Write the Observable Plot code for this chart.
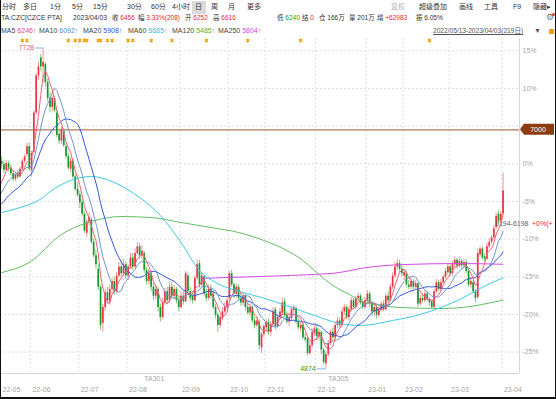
<!DOCTYPE html>
<html lang="zh">
<head>
<meta charset="utf-8">
<script src="https://cdn.jsdelivr.net/npm/d3@7"></script>
<script src="https://cdn.jsdelivr.net/npm/@observablehq/plot@0.6"></script>
<style>
html,body{margin:0;padding:0;background:#fff;}
#wrap{position:relative;width:556px;height:399px;overflow:hidden;background:#fff;font-family:"Liberation Sans","Noto Sans CJK SC",sans-serif;color:#333;}
.h{position:absolute;white-space:nowrap;line-height:10px;}
#border{position:absolute;left:0;top:0;width:556px;height:399px;box-sizing:border-box;border-left:1px solid #111;border-right:1px solid #111;border-bottom:2px solid #111;pointer-events:none;}
</style>
</head>
<body>
<div id="wrap"><div id="border"></div></div>
<script>
// ---------------- header data ----------------
const periodTabs = ["分时","多日","1分","5分","15分","30分","60分","4小时","日","周","月","更多"];
const periodX    = [2,23,50,72,93,127,151,172,195,211,228,247];
const toolTabs   = ["复权","超级叠加","画线","工具","F9","隐藏▸"];
const toolX      = [391,419,459,484,513,533];
const quoteLabels = ["收","幅","开","高","低","结","仓","量","增","振"];
const quoteValues = ["6456","3.33%(208)","6252","6616","6240","0","166万","201万","+62983","6.05%"];
const quoteKinds  = ["up","up","up","up","down","up","flat","flat","up","flat"];
const quoteX      = [112,138,185,213,277,302,319,349,377,416];
const maNames  = ["MA5","MA10","MA20","MA60","MA120","MA250"];
const maLast   = [6246,6092,5908,5685,5485,5804];
const maColors = ["#ef4a64","#5a86cc","#2f50e6","#2cc3e0","#48b548","#d64ae4"];
const maLegendX = [1,39,83,128,172,218];

// ---------------- price data (2022/05/13 - 2023/04/03, 219 sessions) ----------------
const preCloses = [6180,6150,6220,6260,6200,6240,6300,6280,6250,6310,6290,6350,6330,6400,6380,6420,6460,6520,6600];
const opens = [
6720,6690,6640,6700,6660,6610,6560,6610,6580,6650,6720,6780,6850,
6640,6800,7150,7480,7640,7560,7580,7420,7280,7200,7280,7150,6960,6900,6990,6850,6760,6650,6720,6580,6470,
6420,6350,6250,6080,6180,6200,6000,5880,5760,5600,5280,5420,5550,5470,5580,5650,5560,5700,5780,5720,5800,
5700,5780,5860,5780,5900,5960,5880,5900,5750,5650,5720,5600,5520,5580,5420,5330,5460,5560,5480,5600,5520,5580,5480,
5420,5520,5470,5700,5560,5520,5480,5680,5810,5620,5690,5540,5500,5580,5540,5420,5350,5260,5320,5380,5420,
5500,5720,5620,5540,5600,5500,5460,5520,5420,5370,5420,5300,5260,5290,5060,5180,
5240,5290,5200,5270,5400,5250,5330,5370,5470,5350,5290,5320,5390,5410,5290,5230,5260,5150,5140,5010,5080,5190,
5230,5160,5200,5040,4920,5000,5100,5200,5150,5260,5300,5260,5380,5420,5330,5400,5480,5420,5500,5520,5460,5420,
5480,5540,5450,5380,5420,5350,5400,5450,5400,5520,5480,5600,5700,5780,5810,5760,
5700,5720,5620,5600,5650,5600,5630,5450,5500,5480,5540,5490,5470,5420,5560,5640,5580,5640,5690,5730,
5780,5720,5800,5840,5790,5830,5790,5820,5740,5620,5640,5560,5510,5890,5940,5870,5850,5960,6000,6040,6130,6250,6190,6252];
const highs = [
6760,6720,6730,6720,6690,6630,6620,6640,6670,6740,6780,6880,6880,
6810,7170,7500,7600,7670,7728,7600,7450,7330,7300,7300,7180,7000,7020,7010,6880,6790,6750,6740,6600,6520,
6450,6380,6270,6200,6260,6220,6030,5930,5800,5620,5450,5580,5600,5620,5680,5690,5730,5820,5830,5850,5830,
5800,5900,5900,5940,6000,5990,5970,5920,5780,5760,5740,5640,5620,5600,5450,5500,5590,5600,5640,5640,5620,5600,5510,
5560,5560,5740,5720,5600,5560,5700,5840,5840,5730,5700,5580,5620,5620,5570,5450,5370,5360,5420,5460,5500,
5740,5750,5640,5630,5620,5540,5550,5540,5450,5450,5440,5330,5340,5310,5200,5270,
5310,5320,5290,5420,5420,5360,5410,5500,5500,5380,5360,5430,5440,5430,5320,5290,5280,5190,5160,5120,5230,5260,
5260,5230,5210,5060,5020,5130,5220,5240,5290,5330,5330,5420,5450,5440,5430,5510,5500,5520,5550,5540,5490,5510,
5570,5560,5480,5450,5440,5430,5470,5480,5540,5560,5630,5730,5820,5850,5840,5790,
5760,5740,5660,5690,5670,5660,5640,5530,5540,5570,5560,5510,5490,5580,5670,5660,5670,5710,5770,5810,
5800,5830,5870,5860,5870,5850,5850,5840,5760,5690,5660,5580,5940,5960,5960,5900,5990,6030,6060,6150,6260,6280,6270,6616];
const lows = [
6650,6610,6620,6630,6590,6540,6540,6560,6570,6640,6700,6760,6630,
6580,6790,7130,7440,7520,7420,7380,7250,7150,7160,7150,6930,6870,6870,6840,6740,6640,6620,6560,6450,6400,
6300,6230,6080,6040,6150,5980,5860,5760,5570,5220,5200,5380,5450,5440,5540,5530,5540,5680,5690,5700,5670,
5660,5760,5750,5760,5880,5850,5850,5720,5620,5620,5560,5480,5490,5380,5290,5310,5440,5450,5460,5500,5490,5450,5380,
5400,5440,5460,5530,5470,5450,5470,5660,5590,5600,5520,5470,5480,5500,5400,5320,5200,5230,5300,5360,5400,
5480,5600,5500,5510,5480,5430,5430,5390,5350,5340,5280,5230,5240,5040,5010,5150,
5200,5170,5160,5250,5220,5230,5310,5350,5330,5270,5250,5300,5360,5270,5220,5200,5130,5110,4990,4990,5060,5160,
5130,5120,5000,4910,4874,4980,5080,5120,5130,5230,5230,5240,5350,5310,5300,5380,5400,5400,5470,5440,5400,5400,
5450,5420,5340,5340,5320,5330,5380,5380,5390,5460,5470,5580,5680,5750,5730,5690,
5660,5600,5580,5580,5570,5580,5420,5430,5460,5460,5470,5430,5400,5410,5540,5560,5560,5620,5670,5710,
5690,5700,5770,5760,5770,5760,5770,5720,5600,5590,5540,5460,5490,5870,5840,5820,5840,5940,5980,6020,6110,6160,6170,6240];
const closes = [
6690,6640,6700,6660,6610,6560,6600,6580,6650,6720,6760,6850,6650,
6790,7150,7480,7560,7560,7600,7420,7280,7200,7280,7170,6950,6900,7000,6860,6760,6660,6720,6580,6470,6420,
6350,6250,6100,6180,6220,6000,5880,5800,5600,5260,5420,5550,5480,5580,5650,5560,5700,5780,5720,5800,5700,
5780,5860,5780,5900,5960,5880,5920,5750,5650,5720,5600,5520,5580,5420,5330,5460,5560,5480,5600,5520,5580,5480,5420,
5520,5470,5720,5560,5500,5480,5680,5800,5620,5700,5540,5500,5580,5520,5420,5350,5260,5330,5380,5420,5480,
5720,5620,5540,5600,5500,5460,5520,5420,5370,5420,5300,5260,5300,5080,5180,5250,
5290,5200,5270,5380,5250,5330,5380,5460,5350,5290,5330,5400,5420,5290,5240,5260,5150,5130,5010,5080,5200,5230,
5160,5200,5040,4930,5000,5100,5200,5150,5260,5300,5260,5380,5420,5330,5400,5480,5420,5500,5520,5460,5420,5480,
5540,5450,5380,5420,5350,5400,5450,5400,5520,5480,5600,5700,5780,5810,5760,5720,
5730,5620,5600,5650,5600,5630,5450,5500,5480,5540,5490,5460,5420,5560,5640,5580,5640,5690,5740,5780,
5720,5800,5840,5790,5830,5790,5820,5740,5620,5650,5560,5500,5900,5940,5860,5850,5960,6000,6040,6120,6230,6186,6248,6456];

// long moving averages (session index -> value)
const ma60Idx  = [0,8,16,23,30,39,47,54,60,69,78,86,93,99,113,126,136,147,156,170,182,191,200,208,218];
const ma60Val  = [6265,6309,6372,6478,6549,6585,6549,6478,6398,6238,5998,5749,5642,5589,5509,5420,5349,5278,5260,5304,5358,5420,5500,5589,5685];
const ma120Idx = [0,12,26,39,52,65,78,91,103,114,124,131,136,144,152,156,165,173,191,204,213,218];
const ma120Val = [5731,5820,6069,6185,6229,6220,6176,6131,6087,6016,5927,5838,5749,5616,5527,5482,5438,5420,5411,5429,5464,5485];
const ma250Idx = [87,99,113,126,136,147,156,175,200,218];
const ma250Val = [5678,5687,5696,5705,5714,5731,5767,5802,5811,5804];

// axes / annotations
const monthStart  = [0,13,34,55,78,99,115,137,159,175,195,218];
const monthLabels = ["22-05","22-06","22-07","22-08","22-09","22-10","22-11","22-12","23-01","23-02","23-03","23-04"];
const contracts   = [{name:"TA301", i:62},{name:"TA305", i:142}];
const pctTicks    = [15,10,5,0,-5,-10,-15,-20,-25];
const basePrice   = 6698;
const alertPrice  = 7000;
const eventIdx    = [9,11,29,32,34,36,37,42,43,46,48,55,57,65,74,89,107,130,186];
const rangeText   = "2022/05/13-2023/04/03(219日)";
const spreadLabel = "6194-6198";
const spreadPrice = 6196;
const spreadChange = "+0%(+";

// ---------------- header ----------------
const wrap = document.getElementById("wrap");
const border = document.getElementById("border");
const RED = "#e8262e", GREEN = "#139c22";
function put(text, x, y, size, color, extra) {
  const s = document.createElement("span");
  s.className = "h"; s.textContent = text;
  s.style.left = x + "px"; s.style.top = y + "px";
  s.style.fontSize = size + "px";
  if (color) s.style.color = color;
  if (extra) Object.assign(s.style, extra);
  wrap.insertBefore(s, border);
  return s;
}
const sel = document.createElement("div");
Object.assign(sel.style, {position:"absolute", left:"192px", top:"1px", width:"14px", height:"13px", background:"#dadada"});
wrap.insertBefore(sel, border);
periodTabs.forEach((t, k) => put(t, periodX[k], 2, 7, "#333"));
toolTabs.forEach((t, k) => put(t, toolX[k], 2, 7, k === 0 ? "#b5b5b5" : "#333"));

put("TA.CZC[CZCE PTA]", 1, 13, 6.8, "#333");
put("2023/04/03", 73, 13, 6.8, "#333");
quoteLabels.forEach((t, k) => {
  const s = put(t + " ", quoteX[k], 13, 6.5, "#333");
  const v = document.createElement("span");
  v.textContent = quoteValues[k];
  v.style.color = quoteKinds[k] === "up" ? RED : quoteKinds[k] === "down" ? GREEN : "#333";
  s.appendChild(v);
});
put("⚙", 546, 12, 9, "#777");
const dot = document.createElement("div");
Object.assign(dot.style, {position:"absolute", left:"552px", top:"13px", width:"3px", height:"3px", borderRadius:"2px", background:"#e33"});
wrap.insertBefore(dot, border);

maNames.forEach((n, k) => {
  const s = put(n + " ", maLegendX[k], 26, 7, "#444");
  const v = document.createElement("span");
  v.textContent = maLast[k] + "↑";
  v.style.color = maColors[k];
  s.appendChild(v);
});
put(rangeText, 433, 26, 6.6, "#555", {textDecoration:"underline"});
put("▼", 534, 26, 7, "#555");
const lock = document.createElement("div");
Object.assign(lock.style, {position:"absolute", left:"549px", top:"29px", width:"5px", height:"5px", background:"#f0a020"});
wrap.insertBefore(lock, border);

// ---------------- chart ----------------
const rows = closes.map((c, i) => ({i, o: opens[i], h: highs[i], l: lows[i], c}));
const upRows = rows.filter(d => d.c >= d.o);
const dnRows = rows.filter(d => d.c < d.o);
const maRows = preCloses.map((c, k) => ({i: k - preCloses.length, c})).concat(rows);
const longMA = (idx, val) => idx.map((i, k) => ({i, v: val[k]}));
const hiRow = rows[d3.maxIndex(rows, d => d.h)];
const loRow = rows[d3.minIndex(rows, d => d.l)];
const lastRow = rows[rows.length - 1];
const pctPrice = p => basePrice * (1 + p / 100);
const axisTicks = pctTicks.filter(p => Math.abs(pctPrice(p) - alertPrice) > 150); // the 7000 tag covers the 5% label

const yTop = 7812.5, yBot = 4832.7, xMin = -0.5, xMax = 225.15;
const UP = "#ee3344", UPW = "#f08890", DN = "#139a2c", DNW = "#6cc36c";
const fontFamily = '"Liberation Sans","Noto Sans CJK SC",sans-serif';

const chart = Plot.plot({
  width: 556, height: 362,
  marginTop: 2, marginBottom: 25, marginLeft: 0, marginRight: 37,
  x: {domain: [xMin, xMax], axis: null},
  y: {domain: [yBot, yTop], axis: null},
  style: {fontFamily, background: "transparent", overflow: "visible"},
  marks: [
    Plot.ruleY(pctTicks, {y: pctPrice, stroke: "#dedede", strokeDasharray: "2,2"}),
    Plot.ruleX(monthStart, {x: d => d - 0.5, stroke: "#dedede", strokeDasharray: "2,2"}),
    Plot.ruleX([xMax], {stroke: "#d6d6d6"}),
    Plot.ruleY([yBot], {stroke: "#d6d6d6"}),
    Plot.ruleY([alertPrice], {stroke: "#b07a5c", strokeWidth: 1.4}),
    // candles
    Plot.ruleX(upRows, {x: "i", y1: "l", y2: "h", stroke: UPW, strokeWidth: 0.9}),
    Plot.ruleX(dnRows, {x: "i", y1: "l", y2: "h", stroke: DNW, strokeWidth: 0.9}),
    Plot.ruleX(upRows, {x: "i", y1: "o", y2: "c", stroke: UP, strokeWidth: 1.7}),
    Plot.ruleX(dnRows, {x: "i", y1: "o", y2: "c", stroke: DN, strokeWidth: 1.7}),
    // moving averages
    Plot.line(longMA(ma250Idx, ma250Val), {x: "i", y: "v", stroke: maColors[5], strokeWidth: 1, curve: "monotone-x"}),
    Plot.line(longMA(ma120Idx, ma120Val), {x: "i", y: "v", stroke: "#62bf62", strokeWidth: 1, curve: "monotone-x"}),
    Plot.line(longMA(ma60Idx, ma60Val), {x: "i", y: "v", stroke: "#3ccbe3", strokeWidth: 1, curve: "monotone-x"}),
    Plot.lineY(maRows, Plot.windowY({k: 20, anchor: "end", strict: true}, {x: "i", y: "c", stroke: "#3156e3", strokeWidth: 1, clip: true})),
    Plot.lineY(maRows, Plot.windowY({k: 10, anchor: "end", strict: true}, {x: "i", y: "c", stroke: "#7396c8", strokeWidth: 1, clip: true})),
    Plot.lineY(maRows, Plot.windowY({k: 5, anchor: "end", strict: true}, {x: "i", y: "c", stroke: "#f2607a", strokeWidth: 1, clip: true})),
    // extremes
    Plot.link([hiRow], {x1: d => d.i - 3.4, x2: "i", y1: "h", y2: "h", stroke: "#8ab6e6"}),
    Plot.text([hiRow], {x: d => d.i - 3.4, y: "h", text: d => String(d.h), textAnchor: "end", dx: -1, fill: "#e46474", fontSize: 7}),
    Plot.link([loRow], {x1: d => d.i - 4, x2: "i", y1: "l", y2: "l", stroke: "#8ab6e6"}),
    Plot.text([loRow], {x: d => d.i - 4, y: "l", text: d => String(d.l), textAnchor: "end", dx: -1, fill: "#2f9e3f", fontSize: 7}),
    // range label near last candles
    Plot.text([lastRow], {x: d => d.i - 3.5, y: () => spreadPrice, text: () => spreadLabel, textAnchor: "start", dy: 4, fill: "#666", fontSize: 7}),
    Plot.text([lastRow], {x: d => d.i - 3.5, y: () => spreadPrice, text: () => spreadChange, textAnchor: "start", dy: 4, dx: 37, fill: RED, fontSize: 7}),
    // right percent axis
    Plot.text(axisTicks, {y: pctPrice, text: p => p + "%", frameAnchor: "right", dx: 3, textAnchor: "start", fill: "#a4a4a4", fontSize: 7}),
    // bottom axis
    Plot.text(monthStart, {x: d => d - 0.5, text: (d, k) => monthLabels[k], frameAnchor: "bottom", dy: 18, dx: 2, textAnchor: "start", fill: "#a4a4a4", fontSize: 7}),
    Plot.text(contracts, {x: "i", text: "name", frameAnchor: "bottom", dy: 7, textAnchor: "start", fill: "#a8a8a8", fontSize: 7}),
    // event markers
    Plot.dot(eventIdx, {x: d => d, frameAnchor: "top", dy: 2, symbol: "asterisk", r: 1.8, stroke: "#f2a100", strokeWidth: 1.2})
  ]
});
chart.style.position = "absolute";
chart.style.left = "0px";
chart.style.top = "36px";
wrap.insertBefore(chart, border);

// 7000 price tag on the right axis
const ns = "http://www.w3.org/2000/svg";
const yy = chart.scale("y").apply(alertPrice);
const tag = document.createElementNS(ns, "path");
tag.setAttribute("d", `M520,${yy} L524,${yy - 5.5} L554,${yy - 5.5} L554,${yy + 5.5} L524,${yy + 5.5} Z`);
tag.setAttribute("fill", "#8d3c12");
chart.appendChild(tag);
const tagText = document.createElementNS(ns, "text");
tagText.setAttribute("x", 538); tagText.setAttribute("y", yy);
tagText.setAttribute("dy", "0.35em");
tagText.setAttribute("text-anchor", "middle");
tagText.setAttribute("fill", "#fff");
tagText.setAttribute("font-size", "7");
tagText.setAttribute("font-family", fontFamily);
tagText.textContent = String(alertPrice);
chart.appendChild(tagText);
</script>
</body>
</html>
